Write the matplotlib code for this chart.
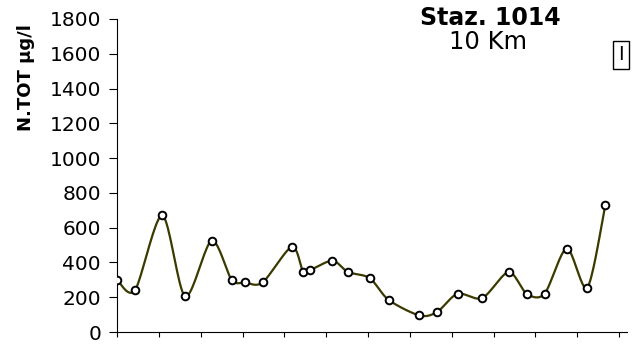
import numpy as np
import matplotlib
matplotlib.use("Agg")
import matplotlib.pyplot as plt

# Sampling positions (in months from start of x axis) and N.TOT values
months = [0.0, 0.43, 1.08, 1.63, 2.26, 2.74, 3.06, 3.48, 4.18, 4.45, 4.61,
          5.15, 5.52, 6.04, 6.49, 7.23, 7.65, 8.14, 8.73, 9.36, 9.79, 10.22,
          10.75, 11.24, 11.67]
ntot = [300, 240, 670, 205, 525, 300, 285, 285, 490, 345, 355,
        410, 345, 310, 185, 95, 115, 220, 195, 345, 220, 220,
        480, 255, 728]
yticks = [0, 200, 400, 600, 800, 1000, 1200, 1400, 1600, 1800]
xticks = list(range(13))

title = "Staz. 1014"
subtitle = "10 Km"
ylabel = "N.TOT µg/l"
panel = "I"


def smooth(x, y, n=20, k=7.0):
    """Bezier smoothing through the measured points (like Excel smoothed line)."""
    x = np.asarray(x, float)
    y = np.asarray(y, float)
    px = np.concatenate([[x[0]], x, [x[-1]]])
    py = np.concatenate([[y[0]], y, [y[-1]]])
    xs, ys = [], []
    for i in range(1, len(px) - 2):
        p0, p1, p2, p3 = (np.array([px[j], py[j]]) for j in (i - 1, i, i + 1, i + 2))
        c1 = p1 + (p2 - p0) / k
        c2 = p2 - (p3 - p1) / k
        t = np.linspace(0, 1, n, endpoint=(i == len(px) - 3))[:, None]
        b = ((1 - t) ** 3) * p1 + 3 * ((1 - t) ** 2) * t * c1 + 3 * (1 - t) * t ** 2 * c2 + t ** 3 * p2
        xs.append(b[:, 0])
        ys.append(b[:, 1])
    return np.concatenate(xs), np.concatenate(ys)


plt.rcParams['font.family'] = ['DejaVu Sans']
fig = plt.figure(figsize=(6.36, 3.47), dpi=100)
ax = fig.add_axes([117 / 636, 1 - 332 / 347, (627 - 117) / 636, (332 - 19) / 347])

sx, sy = smooth(months, ntot)
ax.plot(sx, sy, color="#3a3a00", lw=1.6, zorder=2)
ax.plot(months, ntot, ls="none", marker="o", ms=5.5, mfc="white", mec="black",
        mew=1.4, zorder=3)

ax.set_ylim(0, 1800)
ax.set_xlim(0, 12.19)
ax.set_yticks(yticks)
ax.set_yticklabels([str(v) for v in yticks], fontsize=14.5)
ax.set_xticks(xticks)
ax.set_xticklabels([])
ax.tick_params(axis="y", direction="out", length=5.5, width=0.8, pad=6)
ax.tick_params(axis="x", direction="out", length=3.5, width=0.8)
for s in ("top", "right"):
    ax.spines[s].set_visible(False)
for s in ("left", "bottom"):
    ax.spines[s].set_linewidth(0.8)

ax.set_ylabel(ylabel, fontsize=13, fontweight="bold")
ax.yaxis.set_label_coords((35 - 117) / 510, (332 - 78) / 313)

fig.text(490 / 636, 1 - 18 / 347, title, fontsize=17, fontweight="bold",
         ha="center", va="center")
fig.text(488 / 636, 1 - 42 / 347, subtitle, fontsize=17.5, ha="center", va="center")
fig.text(621 / 636, 1 - 55 / 347, panel, fontsize=14, ha="center", va="center",
         bbox=dict(boxstyle="square,pad=0.25", fc="white", ec="black", lw=1))

fig.savefig("out.png", dpi=100)
